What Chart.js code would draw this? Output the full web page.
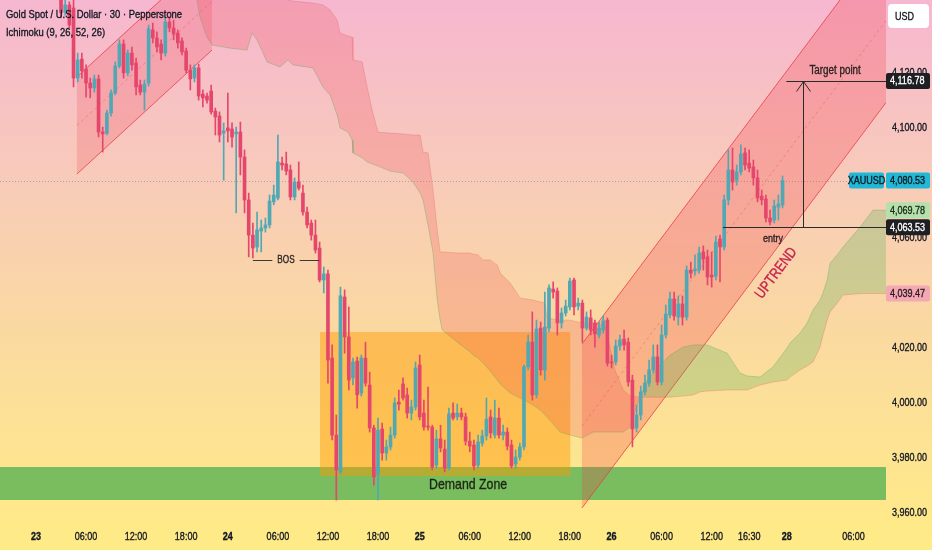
<!DOCTYPE html>
<html>
<head>
<meta charset="utf-8">
<script src="https://cdn.jsdelivr.net/npm/chart.js@4.4.1/dist/chart.umd.min.js"></script>
<style>
  html, body { margin: 0; padding: 0; background: #fde68f; }
  #wrap { width: 932px; height: 550px; }
</style>
</head>
<body>
<div id="wrap"><canvas id="c" width="932" height="550"></canvas></div>
<script>
/* XAUUSD 30m with Ichimoku cloud + hand drawings (channels, range box, demand zone) */

const FONT = "'Liberation Sans', Arial, sans-serif";
const NARROW = 0.82;   // the source screenshot uses a condensed face
const INK = '#131722';
const UP = '#4fa8b4';
const DOWN = '#e5476c';

/* ---------- candles (one slot = one 30m bar, slot 0 = session "23") ---------- */
const FIRST_SLOT = 6;
const OPEN = [
  4149.8, 4141.8, 4144.4, 4143.3, 4117.8, 4124.7, 4121.1, 4116.0, 4114.2, 4117.5,
  4098.2, 4097.8, 4105.1, 4112.4, 4122.2, 4130.2, 4119.7, 4126.9, 4123.3, 4115.3,
  4112.7, 4116.0, 4135.3, 4132.4, 4130.2, 4126.9, 4138.2, 4136.0, 4134.2, 4131.3,
  4127.7, 4120.7, 4117.8, 4121.5, 4112.0, 4111.3, 4113.1, 4105.8, 4104.0, 4097.8,
  4099.7, 4099.3, 4097.5, 4098.2, 4089.1, 4073.5, 4060.7, 4056.4, 4062.2, 4063.3,
  4064.4, 4072.8, 4074.2, 4086.9, 4086.6, 4084.4, 4074.6, 4080.0, 4076.0, 4069.1,
  4065.1, 4060.7, 4056.0, 4044.4, 4046.6, 4016.0, 3988.0, 3974.6, 4038.2, 4023.7,
  4008.8, 4014.9, 4003.3, 4016.0, 4006.2, 3990.6, 3973.5, 3990.2, 3981.5, 3983.7,
  3988.0, 4000.0, 4006.6, 4002.6, 3996.0, 3998.2, 4013.5, 3996.0, 3991.3, 3990.9,
  3977.1, 3986.6, 3982.9, 3976.0, 3996.0, 3994.6, 3996.0, 3994.6, 3985.8, 3984.4,
  3977.1, 3985.1, 3987.7, 3994.6, 3988.0, 3994.2, 3988.0, 3989.1, 3984.4, 3977.5,
  3980.0, 3983.7, 4012.8, 4021.8, 4002.6, 4026.9, 4011.7, 4026.9, 4041.1, 4040.4,
  4028.8, 4032.4, 4034.6, 4044.4, 4034.9, 4036.0, 4026.9, 4030.6, 4028.8, 4024.4,
  4026.2, 4029.8, 4014.6, 4014.6, 4020.4, 4022.9, 4021.8, 4008.0, 3990.6, 3995.3,
  4003.7, 4006.9, 4011.7, 4016.4, 4007.3, 4024.4, 4031.7, 4037.5, 4030.9, 4035.7,
  4030.9, 4048.0, 4047.7, 4048.0, 4054.6, 4052.8, 4046.2, 4045.8, 4059.3, 4056.4,
  4073.5, 4084.4, 4080.7, 4083.7, 4090.6, 4086.9, 4085.5, 4081.5, 4074.9, 4073.8,
  4066.9, 4066.2, 4070.9, 4071.7
];
const HIGH = [
  4151.7, 4146.2, 4145.5, 4146.2, 4126.9, 4126.9, 4122.6, 4117.8, 4118.9, 4118.9,
  4100.0, 4106.2, 4113.5, 4123.7, 4131.7, 4131.7, 4128.0, 4129.1, 4125.1, 4117.1,
  4117.1, 4137.1, 4137.8, 4134.6, 4131.7, 4139.7, 4140.0, 4138.9, 4135.3, 4132.4,
  4128.7, 4122.6, 4122.6, 4122.9, 4113.5, 4112.4, 4115.3, 4106.9, 4105.5, 4101.5,
  4112.4, 4101.5, 4100.0, 4101.8, 4091.7, 4076.0, 4065.1, 4069.1, 4066.2, 4066.9,
  4075.3, 4078.9, 4097.1, 4089.1, 4090.9, 4086.2, 4081.5, 4087.3, 4078.9, 4070.9,
  4066.2, 4066.2, 4058.2, 4049.1, 4048.0, 4020.8, 3995.3, 4041.8, 4040.8, 4034.6,
  4016.0, 4016.4, 4017.1, 4021.8, 4010.9, 3991.6, 3994.2, 3992.4, 3986.2, 3990.9,
  4001.5, 4004.4, 4008.8, 4005.1, 4000.7, 4014.6, 4017.1, 4000.7, 4005.5, 3991.6,
  3989.8, 3991.6, 3986.2, 3997.8, 3999.7, 3999.3, 3997.8, 3996.0, 3989.1, 3986.2,
  3988.0, 3989.8, 4001.5, 3997.1, 4000.7, 3997.8, 3991.6, 3990.6, 3986.2, 3982.6,
  3985.1, 4013.5, 4024.4, 4032.8, 4029.8, 4029.1, 4040.0, 4042.6, 4043.7, 4041.5,
  4034.2, 4037.1, 4045.1, 4045.1, 4037.8, 4037.1, 4032.8, 4033.5, 4029.8, 4029.1,
  4031.3, 4030.6, 4017.1, 4022.6, 4024.4, 4026.2, 4023.3, 4009.8, 3998.9, 4005.8,
  4009.8, 4015.3, 4020.8, 4020.8, 4028.0, 4035.3, 4040.0, 4040.0, 4038.6, 4038.6,
  4049.5, 4050.9, 4053.5, 4056.4, 4056.8, 4055.3, 4054.6, 4060.4, 4060.7, 4075.3,
  4091.7, 4092.4, 4086.2, 4093.5, 4092.4, 4091.7, 4088.0, 4084.4, 4077.1, 4075.3,
  4069.8, 4073.5, 4075.3, 4082.2
];
const LOW = [
  4139.7, 4140.7, 4136.0, 4114.6, 4116.4, 4117.8, 4110.9, 4110.6, 4112.7, 4096.4,
  4090.9, 4097.1, 4104.0, 4111.7, 4121.5, 4117.8, 4118.6, 4120.7, 4111.7, 4111.7,
  4106.2, 4114.9, 4130.6, 4127.3, 4124.4, 4125.8, 4134.6, 4131.7, 4128.7, 4126.2,
  4119.7, 4113.5, 4116.4, 4109.8, 4107.3, 4108.7, 4104.7, 4097.1, 4094.6, 4080.7,
  4094.6, 4092.7, 4068.8, 4082.6, 4068.8, 4052.8, 4052.4, 4054.6, 4054.6, 4061.8,
  4063.3, 4071.7, 4073.5, 4084.4, 4082.6, 4073.5, 4073.5, 4077.1, 4068.0, 4063.3,
  4058.9, 4054.2, 4043.7, 4039.7, 4006.9, 3986.2, 3964.4, 3973.9, 4017.8, 4004.4,
  4006.2, 3997.8, 4002.2, 4005.8, 3989.1, 3969.8, 3964.4, 3978.9, 3978.9, 3982.6,
  3986.9, 3997.1, 4000.7, 3994.2, 3993.5, 3997.1, 3993.5, 3989.8, 3989.8, 3975.3,
  3976.0, 3981.9, 3974.6, 3975.3, 3993.5, 3993.5, 3993.5, 3984.4, 3981.9, 3975.3,
  3976.0, 3984.0, 3986.2, 3986.9, 3986.9, 3986.9, 3986.2, 3982.6, 3976.0, 3976.0,
  3978.9, 3982.6, 4011.7, 4000.7, 4001.5, 4009.8, 4008.0, 4025.5, 4037.8, 4024.4,
  4026.9, 4031.3, 4033.5, 4031.7, 4033.5, 4021.8, 4026.2, 4024.4, 4020.0, 4023.3,
  4025.1, 4013.1, 4012.4, 4013.5, 4018.9, 4018.9, 4005.8, 3983.7, 3989.1, 3993.5,
  4002.6, 4005.8, 4010.6, 4006.2, 4006.2, 4023.3, 4030.6, 4029.8, 4028.0, 4028.0,
  4029.8, 4045.1, 4046.2, 4046.9, 4048.0, 4042.6, 4041.8, 4044.4, 4043.7, 4055.3,
  4071.7, 4077.1, 4078.9, 4082.6, 4084.4, 4083.7, 4078.9, 4072.8, 4071.7, 4065.5,
  4064.4, 4065.1, 4066.2, 4070.6
];
const CLOSE = [
  4141.5, 4144.4, 4137.1, 4117.8, 4124.4, 4120.4, 4116.0, 4114.2, 4117.5, 4098.2,
  4097.5, 4105.1, 4112.4, 4122.2, 4130.2, 4119.7, 4126.9, 4122.6, 4114.6, 4112.7,
  4115.6, 4135.7, 4132.4, 4129.1, 4126.9, 4138.2, 4136.0, 4133.8, 4130.6, 4127.3,
  4120.7, 4117.5, 4121.5, 4111.3, 4110.6, 4109.8, 4105.5, 4103.7, 4097.1, 4098.6,
  4098.6, 4096.4, 4098.2, 4089.1, 4073.5, 4060.7, 4056.0, 4062.6, 4063.3, 4064.4,
  4073.1, 4075.3, 4087.3, 4086.2, 4084.0, 4074.6, 4080.0, 4077.8, 4069.1, 4064.4,
  4060.7, 4055.3, 4044.4, 4046.6, 4015.3, 3988.0, 3975.3, 4038.6, 4023.7, 4008.0,
  4014.6, 4002.6, 4016.0, 4006.9, 3990.6, 3972.8, 3989.8, 3981.5, 3983.7, 3988.0,
  3999.7, 3999.3, 4001.5, 3996.0, 3998.2, 4012.4, 3994.6, 3990.9, 3990.9, 3976.4,
  3986.6, 3983.3, 3976.0, 3995.7, 3994.2, 3996.0, 3994.6, 3985.8, 3984.0, 3976.8,
  3985.5, 3987.7, 3993.8, 3988.8, 3994.2, 3988.0, 3989.1, 3984.0, 3976.8, 3980.0,
  3983.7, 4012.8, 4021.8, 4002.6, 4026.6, 4011.7, 4027.3, 4041.5, 4040.0, 4028.8,
  4032.4, 4034.9, 4044.0, 4034.6, 4036.0, 4026.9, 4030.9, 4026.2, 4024.8, 4026.9,
  4029.5, 4014.2, 4014.2, 4020.4, 4022.6, 4020.8, 4007.3, 3990.2, 3995.3, 4003.7,
  4006.9, 4011.7, 4016.4, 4007.3, 4024.4, 4032.0, 4037.5, 4031.3, 4035.7, 4030.9,
  4048.0, 4046.9, 4048.4, 4054.2, 4052.0, 4045.5, 4045.5, 4058.2, 4056.4, 4073.5,
  4084.4, 4080.0, 4083.7, 4090.2, 4086.2, 4085.1, 4081.5, 4074.2, 4073.5, 4066.9,
  4065.5, 4071.3, 4072.0, 4080.53
];

/* ---------- Ichimoku cloud (displaced spans) ---------- */
const CLOUD_SLOTS = [
  36.9, 38.6, 39.3, 41.0, 42.2, 46.5, 50.6, 51.8, 53.0, 55.4,
  58.5, 60.4, 61.6, 66.4, 68.8, 70.5, 72.2, 72.9, 74.8, 75.8,
  76.0, 78.2, 79.4, 80.6, 82.0, 84.9, 88.0, 90.4, 92.1, 92.8,
  94.0, 95.2, 96.2, 96.9, 97.4, 101.0, 104.1, 104.8, 106.0, 107.2,
  108.9, 110.6, 111.3, 113.7, 116.1, 119.2, 120.9, 122.1, 122.5, 125.7,
  128.1, 130.9, 133.6, 136.5, 138.8, 140.8, 142.4, 144.8, 146.5, 149.6,
  152.0, 155.2, 157.6, 159.2, 160.9, 165.7, 168.8, 170.5, 173.6, 176.7,
  180.1, 180.8, 183.2, 184.9, 186.3, 188.0, 188.7, 189.7, 190.4, 192.1,
  193.5, 197.6, 200.7, 203.8
];
const SPAN_A = [
  4153.5, 4146.2, 4140.0, 4132.7, 4129.8, 4128.7, 4128.0, 4134.2, 4131.7, 4123.7,
  4121.8, 4124.4, 4122.6, 4121.5, 4114.6, 4111.7, 4104.4, 4099.7, 4098.2, 4095.3,
  4090.6, 4088.8, 4087.3, 4086.6, 4085.8, 4084.0, 4083.3, 4080.0, 4076.0, 4073.5,
  4064.4, 4054.2, 4037.1, 4029.8, 4026.2, 4021.8, 4018.2, 4017.1, 4016.0, 4014.2,
  4011.3, 4008.0, 4006.6, 4003.3, 4001.5, 3998.9, 3997.1, 3995.3, 3994.6, 3989.1,
  3988.0, 3986.9, 3989.1, 3989.1, 3989.1, 3989.1, 3990.9, 4001.8, 4008.0, 4013.5,
  4017.1, 4020.0, 4020.8, 4020.8, 4020.8, 4017.8, 4010.6, 4009.5, 4009.1, 4012.8,
  4019.7, 4021.5, 4025.1, 4028.8, 4033.5, 4037.1, 4039.7, 4044.4, 4050.6, 4053.5,
  4056.4, 4063.7, 4069.8, 4069.78
];
const SPAN_B = [
  4168.0, 4168.0, 4168.0, 4166.2, 4164.4, 4162.6, 4160.7, 4158.9, 4157.1, 4155.3,
  4149.8, 4146.2, 4145.8, 4145.1, 4144.4, 4142.6, 4138.9, 4134.2, 4133.1, 4132.7,
  4124.4, 4123.7, 4114.6, 4106.2, 4098.2, 4097.8, 4097.5, 4097.1, 4097.1, 4090.9,
  4090.6, 4077.1, 4062.6, 4054.6, 4054.6, 4054.2, 4054.2, 4053.8, 4053.5, 4051.7,
  4051.7, 4049.8, 4046.9, 4043.3, 4037.8, 4037.1, 4036.4, 4036.0, 4030.6, 4029.8,
  4029.8, 4028.8, 4028.8, 4027.7, 4011.7, 4004.4, 4002.2, 4001.8, 4001.8, 4001.8,
  4001.8, 4002.2, 4002.6, 4003.7, 4004.0, 4004.4, 4004.4, 4004.4, 4006.2, 4007.3,
  4008.0, 4009.1, 4011.7, 4013.1, 4014.6, 4020.0, 4024.4, 4029.8, 4032.8, 4036.0,
  4038.9, 4039.47, 4039.47, 4039.47
];

/* ---------- axes ---------- */
const TIME_TICKS = [0, 12, 24, 36, 46, 58, 70, 82, 92, 104, 116, 128, 138, 150, 162, 171, 180, 196];
const TIME_LABELS = ['23', '06:00', '12:00', '18:00', '24', '06:00', '12:00', '18:00', '25',
                     '06:00', '12:00', '18:00', '26', '06:00', '12:00', '16:30', '28', '06:00'];
const DAY_LABELS = ['23', '24', '25', '26', '28'];
const PRICE_TICKS = [3960, 3980, 4000, 4020, 4040, 4060, 4080, 4100, 4120];
const X_MIN = -8.63, X_MAX = 203.8;
const Y_MIN = 3956.4, Y_MAX = 4146.2;

/* ---------- drawings (slot / price units) ---------- */
const LAST_PRICE = 4080.53;
const SPAN_A_LAST = 4069.78;
const SPAN_B_LAST = 4039.47;
const ENTRY = { from: 164.7, price: 4063.53, labelAt: 176.7 };
const TARGET = { from: 179.9, price: 4116.78, arrowAt: 183.9, labelAt: 191.6 };
const DEMAND_ZONE = { low: 3964.4, high: 3976.4, labelAt: 103.6 };
const RANGE_BOX = { from: 68.1, to: 128.1, low: 3973.1, high: 4025.5 };
const BOS = { from: 52, to: 67.9, price: 4051.6 };
const CHANNELS = [
  { from: 9.8, to: 42.2, lowStart: 4082.9, lowEnd: 4128.0, width: 35.3, alpha: 0.2 },
  { from: 130.9, to: 203.8, lowStart: 3961.5, lowEnd: 4108.9, width: 59.6, alpha: 0.25 }
];
const UPTREND_AT = { slot: 177.5, price: 4046.9 };

function fmt(v) {
  return v.toLocaleString('en-US', { minimumFractionDigits: 2, maximumFractionDigits: 2 });
}

function hline(ctx, x0, x1, y) {
  ctx.beginPath(); ctx.moveTo(x0, y); ctx.lineTo(x1, y); ctx.stroke();
}

// condensed text: squeeze horizontally around the anchor point, with a hairline
// stroke so the glyphs keep the weight of the screenshot
function ntext(ctx, text, x, y, align) {
  ctx.save();
  ctx.translate(x, y);
  ctx.scale(NARROW, 1);
  ctx.textAlign = align || 'left';
  ctx.fillText(text, 0, 0);
  ctx.strokeStyle = ctx.fillStyle;
  ctx.lineWidth = 0.35;
  ctx.strokeText(text, 0, 0);
  ctx.restore();
}

function tag(ctx, y, text, bg, fg) {
  ctx.fillStyle = bg;
  ctx.beginPath(); ctx.roundRect(886, y - 8, 44, 16, 2); ctx.fill();
  ctx.fillStyle = fg;
  ctx.font = '11px ' + FONT;
  ctx.textBaseline = 'middle';
  ntext(ctx, text, 890, y + 0.5, 'left');
}

const backdrop = {
  id: 'backdrop',
  beforeDraw(chart) {
    const ctx = chart.ctx;
    const g = ctx.createLinearGradient(0, 0, 0, chart.height);
    g.addColorStop(0, '#f6b7d0');
    g.addColorStop(0.33, '#f8cbb9');
    g.addColorStop(0.56, '#fad7a4');
    g.addColorStop(0.8, '#fde393');
    g.addColorStop(1, '#ffeb86');
    ctx.save();
    ctx.fillStyle = g;
    ctx.fillRect(0, 0, chart.width, chart.height);
    ctx.restore();
  }
};

const drawings = {
  id: 'drawings',
  beforeDatasetsDraw(chart) {
    const { ctx, chartArea: a, scales: { x, y } } = chart;
    ctx.save();
    ctx.beginPath(); ctx.rect(a.left, a.top, a.width, a.height); ctx.clip();

    // last price dotted line
    ctx.strokeStyle = 'rgba(80, 130, 140, 0.5)';
    ctx.setLineDash([1, 2]); ctx.lineWidth = 1;
    hline(ctx, a.left, a.right, Math.round(y.getPixelForValue(LAST_PRICE)) + 0.5);
    ctx.setLineDash([]);

    // demand zone
    const zt = y.getPixelForValue(DEMAND_ZONE.high), zb = y.getPixelForValue(DEMAND_ZONE.low);
    ctx.fillStyle = 'rgba(76, 175, 80, 0.75)';
    ctx.fillRect(a.left, zt, a.width, zb - zt);

    // range box
    const bx0 = x.getPixelForValue(RANGE_BOX.from), bx1 = x.getPixelForValue(RANGE_BOX.to);
    const by0 = y.getPixelForValue(RANGE_BOX.high), by1 = y.getPixelForValue(RANGE_BOX.low);
    ctx.fillStyle = 'rgba(255, 152, 0, 0.46)';
    ctx.fillRect(bx0, by0, bx1 - bx0, by1 - by0);

    // parallel channels
    CHANNELS.forEach(ch => {
      const x0 = x.getPixelForValue(ch.from), x1 = x.getPixelForValue(ch.to);
      const l0 = y.getPixelForValue(ch.lowStart), l1 = y.getPixelForValue(ch.lowEnd);
      const u0 = y.getPixelForValue(ch.lowStart + ch.width), u1 = y.getPixelForValue(ch.lowEnd + ch.width);
      const m0 = y.getPixelForValue(ch.lowStart + ch.width / 2), m1 = y.getPixelForValue(ch.lowEnd + ch.width / 2);
      ctx.fillStyle = `rgba(242, 54, 69, ${ch.alpha})`;
      ctx.beginPath();
      ctx.moveTo(x0, l0); ctx.lineTo(x1, l1); ctx.lineTo(x1, u1); ctx.lineTo(x0, u0);
      ctx.closePath(); ctx.fill();
      ctx.strokeStyle = 'rgba(236, 60, 72, 0.8)'; ctx.lineWidth = 1;
      ctx.beginPath(); ctx.moveTo(x0, l0); ctx.lineTo(x1, l1); ctx.stroke();
      ctx.beginPath(); ctx.moveTo(x0, u0); ctx.lineTo(x1, u1); ctx.stroke();
      ctx.strokeStyle = 'rgba(236, 60, 72, 0.35)'; ctx.setLineDash([3, 3]);
      ctx.beginPath(); ctx.moveTo(x0, m0); ctx.lineTo(x1, m1); ctx.stroke();
      ctx.setLineDash([]);
    });
    ctx.restore();
  },
  afterDatasetsDraw(chart) {
    const { ctx, chartArea: a, scales: { x, y } } = chart;
    ctx.save();
    ctx.beginPath(); ctx.rect(a.left, a.top, a.width, a.height); ctx.clip();
    ctx.strokeStyle = '#2a2a2a'; ctx.lineWidth = 1;

    // entry / target
    const ey = Math.round(y.getPixelForValue(ENTRY.price)) + 0.5;
    const ty = Math.round(y.getPixelForValue(TARGET.price)) + 0.5;
    hline(ctx, x.getPixelForValue(ENTRY.from), a.right, ey);
    hline(ctx, x.getPixelForValue(TARGET.from), a.right, ty);
    const ax = Math.round(x.getPixelForValue(TARGET.arrowAt)) + 0.5;
    ctx.beginPath(); ctx.moveTo(ax, ey); ctx.lineTo(ax, ty); ctx.stroke();
    ctx.beginPath(); ctx.moveTo(ax - 7, ty + 10); ctx.lineTo(ax, ty); ctx.lineTo(ax + 7, ty + 10); ctx.stroke();

    // BOS
    ctx.font = '10px ' + FONT;
    ctx.textBaseline = 'middle';
    const bosY = Math.round(y.getPixelForValue(BOS.price)) + 0.5;
    const bx0 = x.getPixelForValue(BOS.from), bx1 = x.getPixelForValue(BOS.to);
    const bmid = (bx0 + bx1) / 2, bw = ctx.measureText('BOS').width * NARROW / 2 + 5;
    ctx.strokeStyle = '#3a3a3a';
    hline(ctx, bx0, bmid - bw, bosY);
    hline(ctx, bmid + bw, bx1, bosY);
    ctx.fillStyle = '#2b2b2b';
    ntext(ctx, 'BOS', bmid, bosY, 'center');

    // labels
    ctx.font = '15px ' + FONT;
    ctx.fillStyle = '#1c2614';
    ntext(ctx, 'Demand Zone', x.getPixelForValue(DEMAND_ZONE.labelAt),
      y.getPixelForValue((DEMAND_ZONE.low + DEMAND_ZONE.high) / 2) + 1, 'center');

    ctx.font = '11px ' + FONT;
    ctx.fillStyle = '#2b2222';
    ntext(ctx, 'entry', x.getPixelForValue(ENTRY.labelAt), ey + 11, 'center');

    ctx.font = '12px ' + FONT;
    ntext(ctx, 'Target point', x.getPixelForValue(TARGET.labelAt), ty - 11, 'center');

    ctx.save();
    ctx.translate(x.getPixelForValue(UPTREND_AT.slot), y.getPixelForValue(UPTREND_AT.price));
    ctx.rotate(-Math.atan(1.338));
    ctx.font = '15px ' + FONT;
    ctx.fillStyle = '#c8234d';
    ntext(ctx, 'UPTREND', 0, 0, 'center');
    ctx.restore();

    ctx.restore();
  },
  afterDraw(chart) {
    const { ctx, chartArea: a, scales: { x, y } } = chart;
    ctx.save();
    ctx.textBaseline = 'middle';

    // axis labels (condensed, taken from the scales' own ticks)
    ctx.fillStyle = INK;
    x.ticks.forEach((t, i) => {
      const lab = TIME_LABELS[i];
      ctx.font = (DAY_LABELS.includes(lab) ? 'bold ' : '') + '11px ' + FONT;
      ntext(ctx, lab, x.getPixelForValue(t.value), a.bottom + 15, 'center');
    });
    ctx.font = '11px ' + FONT;
    y.ticks.forEach(t => {
      ntext(ctx, fmt(t.value), a.right + 6, y.getPixelForValue(t.value) + 0.5, 'left');
    });

    // price scale tags
    tag(ctx, y.getPixelForValue(TARGET.price), fmt(TARGET.price), '#1e1f23', '#ffffff');
    tag(ctx, y.getPixelForValue(LAST_PRICE), fmt(LAST_PRICE), '#22b7d4', '#0c1a24');
    tag(ctx, y.getPixelForValue(SPAN_A_LAST), fmt(SPAN_A_LAST), '#b5e0ab', '#1b2a1b');
    tag(ctx, y.getPixelForValue(ENTRY.price), fmt(ENTRY.price), '#1e1f23', '#ffffff');
    tag(ctx, y.getPixelForValue(SPAN_B_LAST), fmt(SPAN_B_LAST), '#f3a8b4', '#2a1a1e');

    const ly = y.getPixelForValue(LAST_PRICE);
    ctx.fillStyle = '#22b7d4';
    ctx.beginPath(); ctx.roundRect(849, ly - 8, 35, 16, 2); ctx.fill();
    ctx.fillStyle = '#0c1a24';
    ctx.font = '11px ' + FONT;
    ntext(ctx, 'XAUUSD', 866.5, ly + 0.5, 'center');

    // currency box
    ctx.fillStyle = '#ffffff';
    ctx.beginPath(); ctx.roundRect(888, 4, 41, 24, 4); ctx.fill();
    ctx.fillStyle = INK;
    ntext(ctx, 'USD', 895, 16.5, 'left');

    // legend
    ctx.font = '11.5px ' + FONT;
    ctx.fillStyle = INK;
    ntext(ctx, 'Gold Spot / U.S. Dollar · 30 · Pepperstone', 6, 15, 'left');
    ntext(ctx, 'Ichimoku (9, 26, 52, 26)', 6, 33, 'left');
    ctx.restore();
  }
};

const candles = OPEN.map((o, k) => ({ x: FIRST_SLOT + k, o, h: HIGH[k], l: LOW[k], c: CLOSE[k] }));
const candleColors = candles.map(d => (d.c >= d.o ? UP : DOWN));

new Chart(document.getElementById('c').getContext('2d'), {
  type: 'bar',
  data: {
    datasets: [
      {
        type: 'line',
        label: 'Lead 1',
        data: CLOUD_SLOTS.map((s, k) => ({ x: s, y: SPAN_A[k] })),
        borderColor: 'rgba(90, 170, 90, 0.35)',
        borderWidth: 1,
        pointRadius: 0,
        tension: 0,
        fill: { target: 1, above: 'rgba(76, 175, 80, 0.26)', below: 'rgba(242, 54, 69, 0.2)' },
        order: 3
      },
      {
        type: 'line',
        label: 'Lead 2',
        data: CLOUD_SLOTS.map((s, k) => ({ x: s, y: SPAN_B[k] })),
        borderColor: 'rgba(242, 54, 69, 0.22)',
        borderWidth: 1,
        pointRadius: 0,
        tension: 0,
        fill: false,
        order: 3
      },
      {
        label: 'wick',
        data: candles.map(d => ({ x: d.x, y: [d.l, d.h] })),
        backgroundColor: candleColors,
        barThickness: 1,
        grouped: false,
        order: 2
      },
      {
        label: 'body',
        data: candles.map(d => ({ x: d.x, y: [d.o, d.c] })),
        backgroundColor: candleColors,
        barThickness: 3,
        minBarLength: 1,
        grouped: false,
        order: 1
      }
    ]
  },
  options: {
    responsive: false,
    animation: false,
    layout: { padding: 0 },
    plugins: { legend: { display: false }, tooltip: { enabled: false } },
    scales: {
      x: {
        type: 'linear',
        min: X_MIN,
        max: X_MAX,
        offset: false,
        grid: { display: false, drawTicks: false },
        border: { display: false },
        afterBuildTicks: s => { s.ticks = TIME_TICKS.map(v => ({ value: v })); },
        afterFit: s => { s.height = 28; s.paddingLeft = 0; s.paddingRight = 0; },
        ticks: { display: false }
      },
      y: {
        position: 'right',
        min: Y_MIN,
        max: Y_MAX,
        grid: { display: false, drawTicks: false },
        border: { display: false },
        afterBuildTicks: s => { s.ticks = PRICE_TICKS.map(v => ({ value: v })); },
        afterFit: s => { s.width = 46; s.paddingTop = 0; s.paddingBottom = 0; },
        ticks: { display: false }
      }
    }
  },
  plugins: [backdrop, drawings]
});
</script>
</body>
</html>
